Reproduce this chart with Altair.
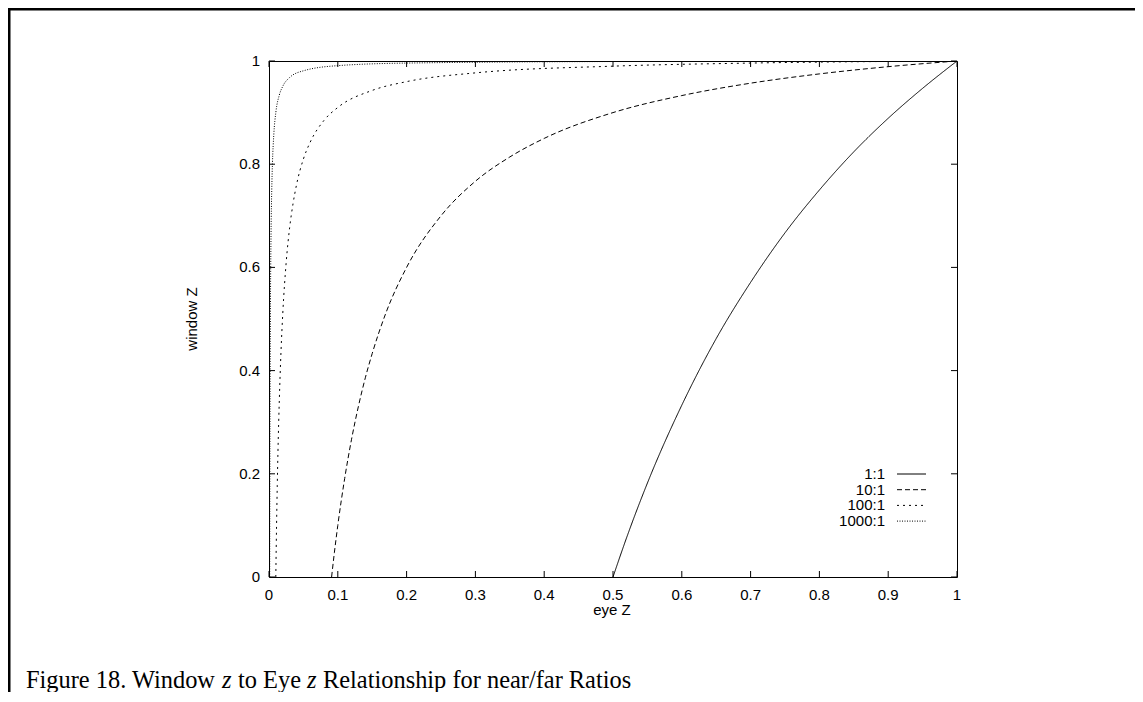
import altair as alt
import pandas as pd

# ---------------- data ----------------
series_names = ["1:1", "10:1", "100:1", "1000:1"]

eye_r1 = [0.5, 0.52, 0.55, 0.6, 0.65, 0.7, 0.75, 0.8, 0.85, 0.9, 0.95, 1.0]
win_r1 = [0.0, 0.077, 0.182, 0.333, 0.462, 0.571, 0.667, 0.75, 0.824, 0.889, 0.947, 1.0]

eye_r10 = [0.091, 0.095, 0.1, 0.11, 0.12, 0.13, 0.14, 0.15, 0.17, 0.2, 0.25, 0.3,
           0.35, 0.4, 0.5, 0.6, 0.7, 0.8, 0.9, 1.0]
win_r10 = [0.0, 0.047, 0.1, 0.191, 0.267, 0.331, 0.386, 0.433, 0.512, 0.6, 0.7, 0.767,
           0.814, 0.85, 0.9, 0.933, 0.957, 0.975, 0.989, 1.0]

eye_r100 = [0.0099, 0.0105, 0.011, 0.012, 0.013, 0.015, 0.0175, 0.02, 0.025, 0.03, 0.035,
            0.04, 0.05, 0.06, 0.08, 0.1, 0.15, 0.2, 0.3, 0.5, 0.7, 1.0]
win_r100 = [0.0, 0.058, 0.101, 0.177, 0.241, 0.343, 0.439, 0.51, 0.61, 0.677, 0.724,
            0.76, 0.81, 0.843, 0.885, 0.91, 0.943, 0.96, 0.977, 0.99, 0.996, 1.0]

eye_r1000 = [0.001, 0.0011, 0.0012, 0.0015, 0.002, 0.003, 0.004, 0.005, 0.007, 0.01,
             0.015, 0.02, 0.03, 0.05, 0.1, 0.2, 0.5, 1.0]
win_r1000 = [0.0, 0.092, 0.168, 0.334, 0.501, 0.668, 0.751, 0.801, 0.858, 0.901,
             0.934, 0.951, 0.968, 0.981, 0.991, 0.996, 0.999, 1.0]

x_ticks = [0, 0.1, 0.2, 0.3, 0.4, 0.5, 0.6, 0.7, 0.8, 0.9, 1]
x_tick_labels = ["0", "0.1", "0.2", "0.3", "0.4", "0.5", "0.6", "0.7", "0.8", "0.9", "1"]
y_ticks = [0, 0.2, 0.4, 0.6, 0.8, 1]
y_tick_labels = ["0", "0.2", "0.4", "0.6", "0.8", "1"]
x_title = "eye Z"
y_title = "window Z"
caption_parts = ["Figure 18. Window", "z", "to Eye", "z", "Relationship for near/far Ratios"]

# ---------------- build table ----------------
rows = []
for name, xs, ys in zip(series_names,
                        [eye_r1, eye_r10, eye_r100, eye_r1000],
                        [win_r1, win_r10, win_r100, win_r1000]):
    for i, (xv, yv) in enumerate(zip(xs, ys)):
        rows.append({"series": name, "eye": xv, "win": yv, "order": i})
df = pd.DataFrame(rows)

W, H = 688, 516
dashes = [[1, 0], [5, 3], [2, 4], [1, 1.5]]
sans = "Liberation Sans"
serif = "Liberation Serif"
fs = 15

xscale = alt.Scale(domain=[0, 1], nice=False, zero=False)
yscale = alt.Scale(domain=[0, 1], nice=False, zero=False)

lines = alt.Chart(df).mark_line(color="black", strokeWidth=1, interpolate="monotone", clip=True).encode(
    x=alt.X("eye:Q", scale=xscale, axis=None),
    y=alt.Y("win:Q", scale=yscale, axis=None),
    strokeDash=alt.StrokeDash("series:N", scale=alt.Scale(domain=series_names, range=dashes), legend=None),
    order="order:Q",
)

xt = pd.DataFrame({"v": x_ticks, "lab": x_tick_labels})
yt = pd.DataFrame({"v": y_ticks, "lab": y_tick_labels})
tick_len = 6
tb = alt.Chart(xt).mark_rule(color="black", strokeWidth=1).encode(
    x=alt.X("v:Q", scale=xscale, axis=None), y=alt.value(H), y2=alt.value(H - tick_len))
tt = alt.Chart(xt).mark_rule(color="black", strokeWidth=1).encode(
    x=alt.X("v:Q", scale=xscale, axis=None), y=alt.value(0), y2=alt.value(tick_len))
tl = alt.Chart(yt).mark_rule(color="black", strokeWidth=1).encode(
    y=alt.Y("v:Q", scale=yscale, axis=None), x=alt.value(0), x2=alt.value(tick_len))
tr = alt.Chart(yt).mark_rule(color="black", strokeWidth=1).encode(
    y=alt.Y("v:Q", scale=yscale, axis=None), x=alt.value(W), x2=alt.value(W - tick_len))

xl = alt.Chart(xt).mark_text(font=sans, fontSize=fs, color="black", align="center",
                             baseline="middle").encode(
    x=alt.X("v:Q", scale=xscale, axis=None), y=alt.value(H + 18), text="lab:N")
yl = alt.Chart(yt).mark_text(font=sans, fontSize=fs, color="black", align="right",
                             baseline="middle").encode(
    y=alt.Y("v:Q", scale=yscale, axis=None), x=alt.value(-9), text="lab:N")

one = pd.DataFrame({"a": [0]})

layers = [lines, tb, tt, tl, tr, xl, yl]

# axis titles
layers.append(alt.Chart(one).mark_text(font=sans, fontSize=fs, color="black", align="center",
                                       baseline="middle").encode(
    x=alt.value(343), y=alt.value(549), text=alt.value(x_title)))
layers.append(alt.Chart(one).mark_text(font=sans, fontSize=fs, color="black", align="center",
                                       baseline="middle", angle=270).encode(
    x=alt.value(-77), y=alt.value(258), text=alt.value(y_title)))

# legend
for i, name in enumerate(series_names):
    yy = 413 + i * 15.7
    layers.append(alt.Chart(one).mark_text(font=sans, fontSize=fs, color="black", align="right",
                                           baseline="middle").encode(
        x=alt.value(616), y=alt.value(yy), text=alt.value(name)))
    layers.append(alt.Chart(one).mark_rule(color="black", strokeWidth=1).encode(
        x=alt.value(628), x2=alt.value(657), y=alt.value(yy), strokeDash=alt.value(dashes[i])))

# page frame
layers.append(alt.Chart(one).mark_rule(color="black", strokeWidth=3).encode(
    x=alt.value(-262), x2=alt.value(880), y=alt.value(-52)))
layers.append(alt.Chart(one).mark_rule(color="black", strokeWidth=3).encode(
    x=alt.value(-260), y=alt.value(-53), y2=alt.value(640)))

# caption
cx0 = -243
cy = 627
cap_offsets = [0, 196, 212, 281, 297]
cap_styles = ["normal", "italic", "normal", "italic", "normal"]
for txt, off, st in zip(caption_parts, cap_offsets, cap_styles):
    layers.append(alt.Chart(one).mark_text(font=serif, fontSize=24.4, color="black", align="left",
                                           baseline="alphabetic", fontStyle=st).encode(
        x=alt.value(cx0 + off), y=alt.value(cy), text=alt.value(txt)))

chart = alt.layer(*layers).properties(
    width=W, height=H,
    autosize=alt.AutoSizeParams(type="none"),
    padding={"left": 261, "top": 53, "right": 178, "bottom": 115},
    background="white",
).configure_view(stroke="black", strokeWidth=1)

chart.save("out.html", embed_options={"renderer": "svg", "actions": False})
